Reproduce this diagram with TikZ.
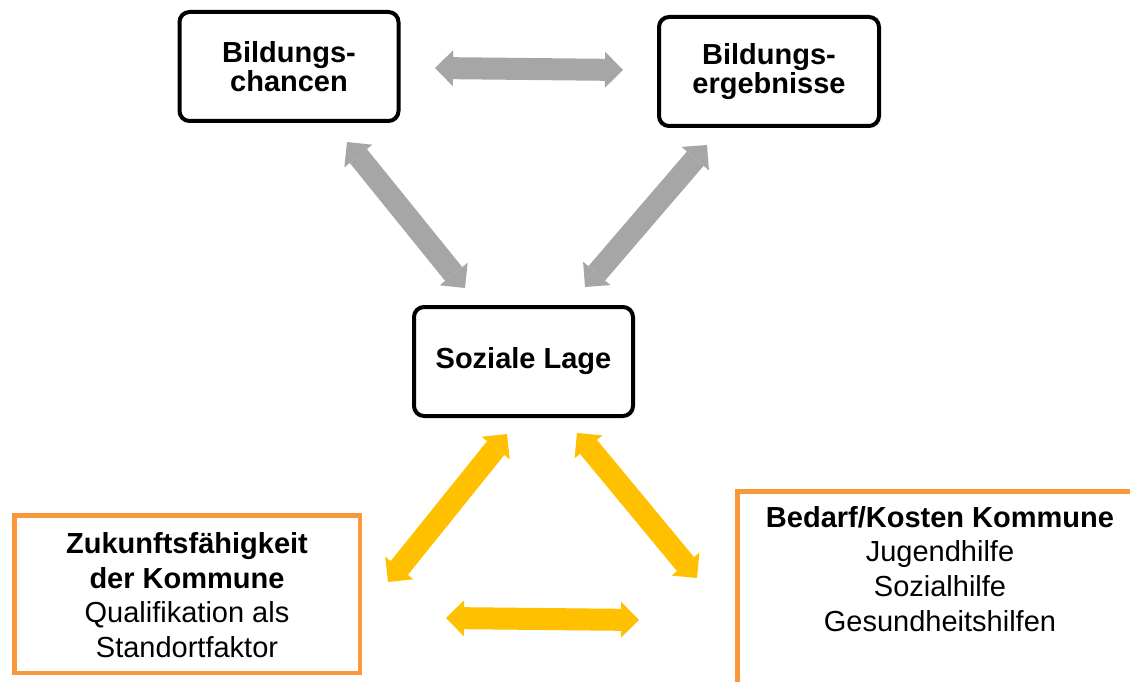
\documentclass[tikz,border=0pt]{standalone}
\usepackage{fontspec}
\setmainfont{Liberation Sans}
\usetikzlibrary{arrows.meta}

\definecolor{arrowgray}{HTML}{A6A6A6}
\definecolor{arrowgold}{HTML}{FFC000}
\definecolor{frameorange}{HTML}{F9983A}

\begin{document}
\begin{tikzpicture}[x=1pt,y=-1pt,
  blackbox/.style={draw=black, line width=4pt, rounded corners=10pt,
    align=center, inner sep=0pt, minimum width=219pt, minimum height=109pt,
    font=\fontsize{29}{29}\selectfont\bfseries},
  orangebox/.style={draw=frameorange, line width=4.5pt, inner sep=0pt},
  boxtext/.style={align=center, inner sep=0pt,
    font=\fontsize{29}{34.7}\selectfont},
  link/.style={line width=22pt,
    {Triangle[width=36pt,length=18pt,line width=0pt]}-{Triangle[width=36pt,length=18pt,line width=0pt]}},
  graylink/.style={link, draw=arrowgray},
  goldlink/.style={link, draw=arrowgold}
]
\clip (0,0) rectangle (1130,682);
\fill[white] (0,0) rectangle (1130,682);

% main boxes
\node[blackbox] (chancen) at (289,66.5) {Bildungs-\\chancen};
\node[blackbox, minimum width=220pt] (ergebnisse) at (769,71.5) {Bildungs-\\ergebnisse};
\node[blackbox] (lage) at (523.5,361.5) {Soziale Lage};

% municipal boxes
\node[orangebox, minimum width=345.5pt, minimum height=157.5pt] (zukunft) at (187,594) {};
\node[boxtext] (zukunfttext) at (187,595)
  {\textbf{Zukunftsfähigkeit}\\\textbf{der Kommune}\\Qualifikation als\\Standortfaktor};
\node[orangebox, anchor=north west, minimum width=420pt, minimum height=220pt] (bedarf) at (735.25,489.25) {};
\node[boxtext, anchor=north] (bedarftext) at (940,506)
  {\textbf{Bedarf/Kosten Kommune}\\Jugendhilfe\\Sozialhilfe\\Gesundheitshilfen};

% arrow end points
\coordinate (ga1) at (435,68);  \coordinate (ga2) at (623,70);
\coordinate (gb1) at (347,142); \coordinate (gb2) at (465,288);
\coordinate (gc1) at (707,145); \coordinate (gc2) at (585,287);
\coordinate (ya1) at (507,434); \coordinate (ya2) at (388,582);
\coordinate (yb1) at (577,433); \coordinate (yb2) at (697,578);
\coordinate (yc1) at (446,618); \coordinate (yc2) at (639,620);

% gray relations
\draw[graylink] (ga1) -- (ga2);
\draw[graylink] (gb1) -- (gb2);
\draw[graylink] (gc1) -- (gc2);

% gold relations
\draw[goldlink] (ya1) -- (ya2);
\draw[goldlink] (yb1) -- (yb2);
\draw[goldlink] (yc1) -- (yc2);
\end{tikzpicture}
\end{document}
